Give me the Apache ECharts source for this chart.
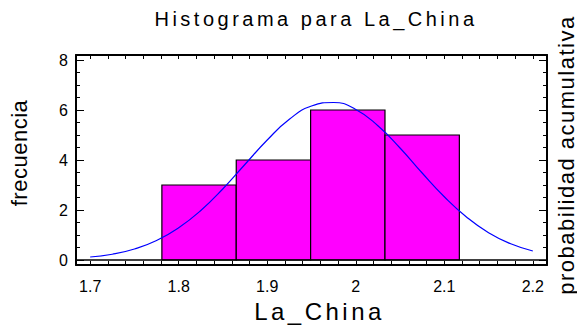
<!DOCTYPE html>
<html>
<head>
<meta charset="utf-8">
<script src="https://cdn.jsdelivr.net/npm/echarts@6/dist/echarts.min.js"></script>
<style>
  html, body { margin: 0; padding: 0; background: #fff; }
  #chart { width: 577px; height: 331px; }
</style>
</head>
<body>
<div id="chart"></div>
<script>
// Histogram bins: edges along La_China and counts per bin
const binEdges = [1.781, 1.865, 1.949, 2.033, 2.117];
const binCounts = [3, 4, 6, 5];

// Fitted normal curve, sampled along La_China (frequency scale)
const curveX = [1.700, 1.725, 1.750, 1.775, 1.800, 1.825, 1.850, 1.875, 1.900, 1.925, 1.950,
                1.975, 2.000, 2.025, 2.050, 2.075, 2.100, 2.125, 2.150, 2.175, 2.200];
const curveY = [0.12, 0.23, 0.44, 0.78, 1.29, 1.98, 2.85, 3.83, 4.80, 5.63, 6.16,
                6.30, 6.02, 5.37, 4.48, 3.48, 2.53, 1.72, 1.09, 0.65, 0.36];

// Axis tick labels
const xTickLabels = ['1.7', '1.8', '1.9', '2', '2.1', '2.2'];
const yTickLabels = ['0', '2', '4', '6', '8'];

// Titles
const chartTitle = 'Histograma para La_China';
const xTitle = 'La_China';
const yTitle = 'frecuencia';
const y2Title = 'probabilidad acumulativa';

const FONT = 'Liberation Sans, Arial, sans-serif';

const xLabelValues = xTickLabels.map(Number);
const yLabelValues = yTickLabels.map(Number);
const xMinorTicks = [];
for (let i = 0; i <= 25; i++) xMinorTicks.push(+(1.7 + i * 0.02).toFixed(2));
const yMinorTicks = [];
for (let i = 0; i <= 16; i++) yMinorTicks.push(i * 0.5);

const binData = binCounts.map((c, i) => [binEdges[i], binEdges[i + 1], c]);
const curveData = curveX.map((x, i) => [x, curveY[i]]);

const X_RANGE = { min: 1.684, max: 2.216 };
const Y_RANGE = { min: -0.2, max: 8.2 };
const frameLine = { show: true, onZero: false, lineStyle: { color: '#000', width: 2 } };

function xAxisDef(position, withLabels) {
  return {
    type: 'value', position, ...X_RANGE,
    axisLine: frameLine,
    splitLine: { show: false },
    axisTick: { show: true, inside: true, length: 4, customValues: xMinorTicks,
                lineStyle: { color: '#000', width: 1 } },
    axisLabel: withLabels ? {
      show: true, customValues: xLabelValues, margin: 13,
      color: '#000', fontSize: 16, fontFamily: FONT,
      formatter: v => xTickLabels[xLabelValues.findIndex(t => Math.abs(t - v) < 1e-6)] || ''
    } : { show: false }
  };
}

function yAxisDef(position, major, withLabels, extra) {
  return Object.assign({
    type: 'value', position, ...Y_RANGE,
    axisLine: major ? frameLine : { show: false },
    splitLine: { show: false },
    axisTick: { show: true, inside: true, length: major ? 8 : 4,
                customValues: major ? yLabelValues : yMinorTicks,
                lineStyle: { color: '#000', width: 1 } },
    axisLabel: withLabels ? {
      show: true, customValues: yLabelValues, margin: 8,
      color: '#000', fontSize: 16, fontFamily: FONT,
      formatter: v => yTickLabels[yLabelValues.indexOf(v)] || ''
    } : { show: false }
  }, extra || {});
}

const chart = echarts.init(document.getElementById('chart'), null, { renderer: 'svg' });
chart.setOption({
  animation: false,
  backgroundColor: '#fff',
  title: {
    text: chartTitle,
    left: 316, top: 9, textAlign: 'center', padding: 0,
    textStyle: { color: '#000', fontSize: 20, fontWeight: 'normal', fontFamily: FONT }
  },
  grid: { left: 76, right: 30, top: 55, bottom: 66, containLabel: false, outerBoundsMode: 'none' },
  xAxis: [
    Object.assign(xAxisDef('bottom', true), {
      name: xTitle, nameLocation: 'middle', nameGap: 34,
      nameTextStyle: { color: '#000', fontSize: 24, fontFamily: FONT, padding: [0, 0, 0, 16] }
    }),
    xAxisDef('top', false)
  ],
  yAxis: [
    yAxisDef('left', true, true, {
      name: yTitle, nameLocation: 'middle', nameRotate: 90, nameGap: 46,
      nameTextStyle: { color: '#000', fontSize: 22, fontFamily: FONT, padding: [0, 0, 0, 14] }
    }),
    yAxisDef('left', false, false),
    yAxisDef('right', true, false, {
      name: y2Title, nameLocation: 'middle', nameRotate: 90, nameGap: 8,
      nameTextStyle: { color: '#000', fontSize: 22, fontFamily: FONT, padding: [0, 0, 0, 10] }
    }),
    yAxisDef('right', false, false)
  ],
  series: [
    {
      type: 'custom',
      xAxisIndex: 0, yAxisIndex: 0,
      data: binData,
      encode: { x: [0, 1], y: 2 },
      renderItem: function (params, api) {
        const top = api.coord([api.value(0), api.value(2)]);
        const base = api.coord([api.value(1), 0]);
        return {
          type: 'rect',
          shape: { x: top[0], y: top[1], width: base[0] - top[0], height: base[1] - top[1] },
          style: { fill: '#ff00ff', stroke: '#000', lineWidth: 1.2 }
        };
      },
      markLine: {
        silent: true, symbol: 'none', label: { show: false },
        lineStyle: { color: '#000', width: 1.5, type: 'solid' },
        data: [{ yAxis: 0 }]
      },
      z: 2
    },
    {
      type: 'line',
      xAxisIndex: 0, yAxisIndex: 0,
      data: curveData,
      smooth: true,
      showSymbol: false,
      lineStyle: { color: '#0000ff', width: 1.2 },
      z: 3
    }
  ]
});

// Wide letter spacing for the titles
const letterSpacing = {};
letterSpacing[chartTitle] = '3.5px';
letterSpacing[xTitle] = '3.5px';
letterSpacing[yTitle] = '0.5px';
letterSpacing[y2Title] = '1.5px';
function applySpacing() {
  document.querySelectorAll('#chart text').forEach(t => {
    const s = letterSpacing[t.textContent];
    if (s) t.style.letterSpacing = s;
  });
}
chart.on('rendered', applySpacing);
chart.on('finished', applySpacing);
applySpacing();
setTimeout(applySpacing, 0);
</script>
</body>
</html>
